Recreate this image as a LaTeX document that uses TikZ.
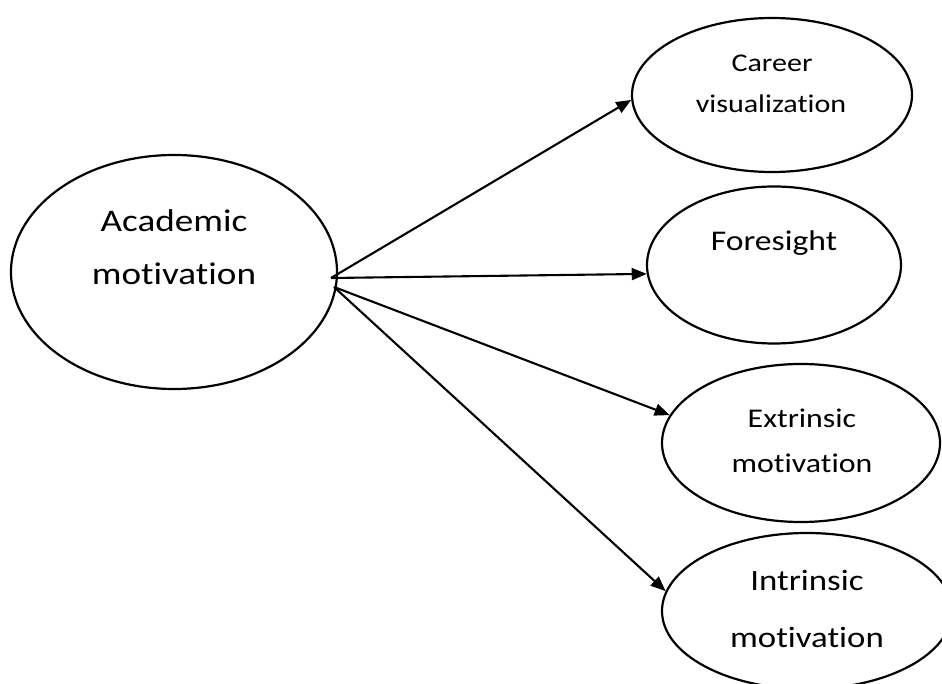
\documentclass[tikz,border=0pt]{standalone}
\usepackage{fontspec}
\setmainfont{Carlito}[FakeStretch=1.18, Ligatures=NoCommon, RawFeature=-liga]
\usetikzlibrary{shapes.geometric,arrows.meta}
\tikzset{
  oval/.style={draw=black, line width=2.2pt, ellipse, inner sep=0pt},
  lbl/.style={anchor=base, inner sep=0pt, text=black},
  link/.style={draw=black, line width=2.1pt, -{Triangle[length=15pt,width=12pt]}},
}
\begin{document}
\begin{tikzpicture}[x=1pt,y=-1pt]
\useasboundingbox (0,0) rectangle (942,684);
% ellipses
\node[oval, minimum width=326pt, minimum height=234pt] (am) at (174,272) {};
\node[oval, minimum width=280pt, minimum height=154pt] (cv) at (772,95) {};
\node[oval, minimum width=254pt, minimum height=157pt] (fs) at (774,265) {};
\node[oval, minimum width=278pt, minimum height=158pt] (ex) at (801,443) {};
\node[oval, minimum width=290pt, minimum height=156pt] (in) at (807,611) {};
% labels
\node[lbl, font=\fontsize{31.5}{38}\selectfont] (am1) at (174,232) {Academic};
\node[lbl, font=\fontsize{31.5}{38}\selectfont] (am2) at (174,285) {motivation};
\node[lbl, font=\fontsize{25.5}{30}\selectfont] (cv1) at (772,72) {Career};
\node[lbl, font=\fontsize{25.5}{30}\selectfont] (cv2) at (771,113) {visualization};
\node[lbl, font=\fontsize{28.5}{34}\selectfont] (fs1) at (774,251) {Foresight};
\node[lbl, font=\fontsize{27}{32}\selectfont] (ex1) at (802,427) {Extrinsic};
\node[lbl, font=\fontsize{27}{32}\selectfont] (ex2) at (802,472) {motivation};
\node[lbl, font=\fontsize{29.5}{35}\selectfont] (in1) at (807,590) {Intrinsic};
\node[lbl, font=\fontsize{29.5}{35}\selectfont] (in2) at (807,647) {motivation};
% connectors
\coordinate (s1) at (331,278);
\coordinate (s2) at (334,287);
\draw[link] (s1) -- (cv.182);
\draw[link] (s1) -- (fs.184);
\draw[link] (s2) -- (ex.168);
\draw[link] (s2) -- (in.172);
\end{tikzpicture}
\end{document}
